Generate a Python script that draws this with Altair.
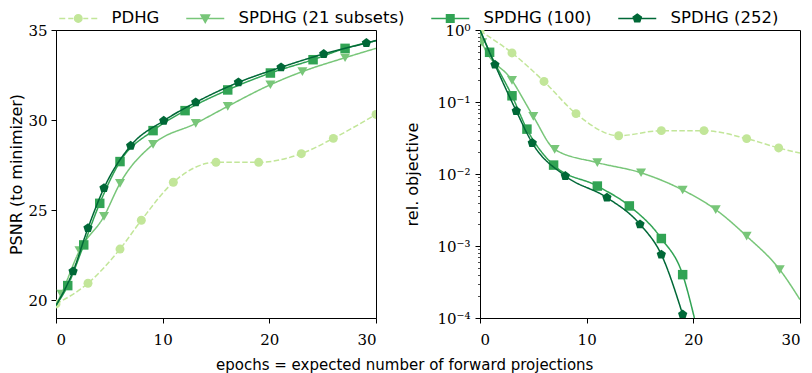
import altair as alt
import pandas as pd

SERIES = ["PDHG", "SPDHG (21 subsets)", "SPDHG (100)", "SPDHG (252)"]
COLORS = ["#c2e699", "#78c679", "#31a354", "#006837"]

# ---------- left panel: PSNR (to minimizer) ----------
psnr_pdhg_x = [0, 3, 6, 8, 11, 15, 19, 23, 26, 30]
psnr_pdhg_y = [19.78, 20.93, 22.83, 24.43, 26.54, 27.65, 27.65, 28.13, 28.98, 30.31]
psnr_pdhg_line_x = [0, 3, 6, 8, 11, 15, 19, 23, 26, 30]
psnr_pdhg_line_y = [19.78, 20.93, 22.83, 24.43, 26.54, 27.65, 27.65, 28.13, 28.98, 30.31]

psnr_s21_x = [0.5, 2.2, 4.5, 6.0, 9.1, 13.1, 16.1, 20.1, 23.1, 27.1]
psnr_s21_y = [20.33, 22.74, 24.65, 26.48, 28.65, 29.81, 30.76, 31.96, 32.69, 33.46]
psnr_s21_line_x = [0, 0.5, 2.2, 4.5, 6.0, 9.1, 13.1, 16.1, 20.1, 23.1, 27.1, 30]
psnr_s21_line_y = [19.7, 20.33, 22.74, 24.65, 26.48, 28.65, 29.81, 30.76, 31.96, 32.69, 33.46, 33.98]

psnr_s100_x = [1.1, 2.6, 4.1, 6.0, 9.1, 12.1, 16.1, 20.1, 24.1, 27.1]
psnr_s100_y = [20.8, 23.06, 25.37, 27.69, 29.41, 30.52, 31.67, 32.61, 33.35, 33.98]
psnr_s100_line_x = [0, 1.1, 2.6, 4.1, 6.0, 9.1, 12.1, 16.1, 20.1, 24.1, 27.1, 30]
psnr_s100_line_y = [19.7, 20.8, 23.06, 25.37, 27.69, 29.41, 30.52, 31.67, 32.61, 33.35, 33.98, 34.4]

psnr_s252_x = [1.6, 3.0, 4.5, 7.0, 10.1, 13.1, 17.1, 21.1, 25.1, 29.1]
psnr_s252_y = [21.59, 24.0, 26.22, 28.57, 29.96, 30.98, 32.09, 32.93, 33.67, 34.28]
psnr_s252_line_x = [0, 1.6, 3.0, 4.5, 7.0, 10.1, 13.1, 17.1, 21.1, 25.1, 29.1, 30]
psnr_s252_line_y = [19.7, 21.59, 24.0, 26.22, 28.57, 29.96, 30.98, 32.09, 32.93, 33.67, 34.28, 34.42]

# ---------- right panel: rel. objective ----------
obj_pdhg_x = [0, 3.0, 6.0, 9.0, 13.0, 17.0, 21.0, 25.0, 28.0]
obj_pdhg_y = [0.97, 0.48, 0.193, 0.069, 0.034, 0.040, 0.040, 0.031, 0.023]
obj_pdhg_line_x = [0, 3.0, 6.0, 9.0, 13.0, 17.0, 21.0, 25.0, 28.0, 30]
obj_pdhg_line_y = [0.97, 0.48, 0.193, 0.069, 0.034, 0.040, 0.040, 0.031, 0.023, 0.0195]

obj_s21_x = [0.2, 3.0, 5.0, 7.0, 11.0, 15.1, 19.0, 22.1, 25.0, 28.1]
obj_s21_y = [0.67, 0.20, 0.063, 0.022, 0.0144, 0.0104, 0.0060, 0.0032, 0.00137, 0.00047]
obj_s21_line_x = [0, 0.2, 3.0, 5.0, 7.0, 11.0, 15.1, 19.0, 22.1, 25.0, 28.1, 30]
obj_s21_line_y = [1.0, 0.67, 0.20, 0.063, 0.022, 0.0144, 0.0104, 0.0060, 0.0032, 0.00137, 0.00047, 0.00018]

obj_s100_x = [0.9, 3.0, 4.4, 6.9, 11.0, 14.0, 17.0, 19.0]
obj_s100_y = [0.49, 0.122, 0.042, 0.0133, 0.0068, 0.0036, 0.00127, 0.0004]
obj_s100_line_x = [0, 0.9, 3.0, 4.4, 6.9, 11.0, 14.0, 17.0, 19.0, 20.1]
obj_s100_line_y = [1.0, 0.49, 0.122, 0.042, 0.0133, 0.0068, 0.0036, 0.00127, 0.0004, 0.0001]

obj_s252_x = [1.4, 3.4, 4.9, 8.0, 11.9, 15.0, 17.0, 19.0]
obj_s252_y = [0.33, 0.075, 0.027, 0.0094, 0.0047, 0.0020, 0.00076, 0.000112]
obj_s252_line_x = [0, 1.4, 3.4, 4.9, 8.0, 11.9, 15.0, 17.0, 19.0]
obj_s252_line_y = [1.0, 0.33, 0.075, 0.027, 0.0094, 0.0047, 0.0020, 0.00076, 0.000112]

PENTAGON = "M0,-1L0.951,-0.309L0.588,0.809L-0.588,0.809L-0.951,-0.309Z"
MARKERS = ["circle", "triangle-down", "square", PENTAGON]
MARKER_SIZES = [80, 100, 90, 95]
DASHES = [[5.5, 2.4], [1, 0], [1, 0], [1, 0]]

# legend glyphs: line through a marker (units scaled by sqrt(size)/2)
LEGEND_PATHS = [
    "M-3.8,0H-2.6M-2.0,0H-1.0M1.0,0H2.0M2.6,0H3.8"
    "M0.75,0A0.75,0.75 0 1,1 -0.75,0A0.75,0.75 0 1,1 0.75,0Z",
    "M-3.8,0H3.8M-0.85,-0.7L0.85,-0.7L0,0.8Z",
    "M-3.8,0H3.8M-0.75,-0.75H0.75V0.75H-0.75Z",
    "M-3.8,0H3.8M0,-0.85L0.81,-0.26L0.5,0.69L-0.5,0.69L-0.81,-0.26Z",
]

AX_LABEL_FONT = "DejaVu Serif"
AX_TITLE_FONT = "DejaVu Sans"

x_axis = alt.Axis(values=[0, 10, 20, 30], title=None, labelFont=AX_LABEL_FONT,
                  labelFontSize=15, tickSize=5, labelPadding=9, format="d")
x_scale = alt.Scale(domain=[0, 30], nice=False, zero=False)


def panel(series_lines, series_points, y_scale, y_axis):
    layers = []
    for i, ((lx, ly), (px, py)) in enumerate(zip(series_lines, series_points)):
        ldf = pd.DataFrame({"x": lx, "y": ly})
        pdf = pd.DataFrame({"x": px, "y": py})
        enc = dict(x=alt.X("x:Q", scale=x_scale, axis=x_axis),
                   y=alt.Y("y:Q", scale=y_scale, axis=y_axis))
        layers.append(
            alt.Chart(ldf).mark_line(color=COLORS[i], strokeWidth=1.5,
                                     strokeDash=DASHES[i], interpolate="monotone",
                                     clip=True).encode(**enc))
        layers.append(
            alt.Chart(pdf).mark_point(color=COLORS[i], filled=True, opacity=1,
                                      shape=MARKERS[i], size=MARKER_SIZES[i],
                                      strokeWidth=0, clip=True).encode(**enc))
    return layers


left_y_axis = alt.Axis(values=[20, 25, 30, 35], title="PSNR (to minimizer)",
                       labelFont=AX_LABEL_FONT, labelFontSize=15, tickSize=5,
                       labelPadding=4, titleFont=AX_TITLE_FONT, titleFontSize=16,
                       titleFontWeight="normal", titlePadding=3, format="d")
left_y_scale = alt.Scale(domain=[19, 35], nice=False, zero=False)

left_layers = panel(
    [(psnr_pdhg_line_x, psnr_pdhg_line_y), (psnr_s21_line_x, psnr_s21_line_y),
     (psnr_s100_line_x, psnr_s100_line_y), (psnr_s252_line_x, psnr_s252_line_y)],
    [(psnr_pdhg_x, psnr_pdhg_y), (psnr_s21_x, psnr_s21_y),
     (psnr_s100_x, psnr_s100_y), (psnr_s252_x, psnr_s252_y)],
    left_y_scale, left_y_axis)

legend_params = dict(
    orient="none", direction="horizontal", legendX=14, legendY=-20, title=None,
    labelFont="DejaVu Sans", labelFontSize=16.5, labelColor="black", labelLimit=400,
    symbolSize=100, symbolStrokeWidth=1.5, symbolOpacity=1, labelOffset=25,
    columnPadding=23, padding=0,
)
legend_df = pd.DataFrame({"series": SERIES})
legend_layer = alt.Chart(legend_df).mark_point(filled=True, opacity=0, strokeWidth=1.5).encode(
    x=alt.value(0), y=alt.value(0),
    fill=alt.Fill("series:N", scale=alt.Scale(domain=SERIES, range=COLORS),
                  legend=alt.Legend(**legend_params)),
    stroke=alt.Stroke("series:N", scale=alt.Scale(domain=SERIES, range=COLORS),
                      legend=alt.Legend(**legend_params)),
    shape=alt.Shape("series:N", scale=alt.Scale(domain=SERIES, range=LEGEND_PATHS),
                    legend=alt.Legend(**legend_params)),
)

left = alt.layer(*left_layers, legend_layer).properties(width=320, height=288)

# right panel
log_vals = [k * 10.0 ** e for e in range(-4, 0) for k in range(1, 10)] + [1.0]
is_major = "abs(log(datum.value)/LN10 - round(log(datum.value)/LN10)) < 0.001"
label_expr = (f"{is_major} ? '10' + (round(log(datum.value)/LN10) < 0 ? '\u207b' : '') + "
              "['\u2070','\u00b9','\u00b2','\u00b3','\u2074'][abs(round(log(datum.value)/LN10))] : ''")
right_y_axis = alt.Axis(values=log_vals, title="rel. objective", labelExpr=label_expr,
                        labelFont=AX_LABEL_FONT, labelFontSize=15,
                        tickSize={"condition": {"test": is_major, "value": 5}, "value": 2.5},
                        tickWidth={"condition": {"test": is_major, "value": 1}, "value": 0.7},
                        labelPadding=5, titleFont=AX_TITLE_FONT, titleFontSize=16,
                        titleFontWeight="normal", titlePadding=16)
right_y_scale = alt.Scale(type="log", domain=[1e-4, 1], nice=False)

right_layers = panel(
    [(obj_pdhg_line_x, obj_pdhg_line_y), (obj_s21_line_x, obj_s21_line_y),
     (obj_s100_line_x, obj_s100_line_y), (obj_s252_line_x, obj_s252_line_y)],
    [(obj_pdhg_x, obj_pdhg_y), (obj_s21_x, obj_s21_y),
     (obj_s100_x, obj_s100_y), (obj_s252_x, obj_s252_y)],
    right_y_scale, right_y_axis)
right = alt.layer(*right_layers).properties(width=320, height=288)

chart = alt.hconcat(left, right, spacing=104, bounds="flush").properties(
    padding={"top": 2, "left": 0, "right": 0, "bottom": 0},
    title=alt.TitleParams("epochs = expected number of forward projections",
                          orient="bottom", anchor="middle", frame="bounds",
                          font="DejaVu Sans", fontSize=15, fontWeight="normal",
                          color="black", offset=10),
).configure_view(stroke="black", strokeWidth=1).configure_axis(
    grid=False, domainColor="black", tickColor="black", labelColor="black",
    titleColor="black", domainWidth=1, tickWidth=1
)

chart.save("out.html", embed_options={"renderer": "svg", "actions": False})
